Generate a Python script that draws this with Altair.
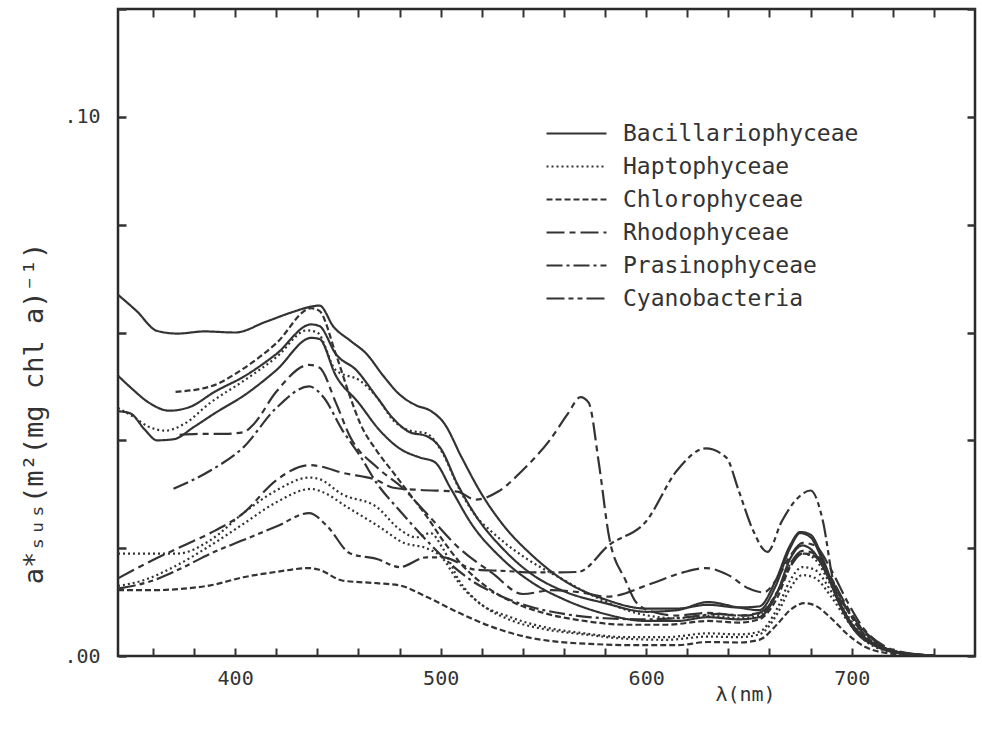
import altair as alt
import pandas as pd

CLASSES = ["Bacillariophyceae", "Haptophyceae", "Chlorophyceae",
           "Rhodophyceae", "Prasinophyceae", "Cyanobacteria"]
DASHES = [[1, 0], [2, 3], [6, 3], [18, 5, 6, 5], [16, 4, 3, 4], [18, 4, 5, 4, 5, 4]]

X_TICKS = [360, 380, 400, 420, 440, 460, 480, 500, 520, 540, 560, 580, 600,
           620, 640, 660, 680, 700, 720, 740]
Y_TICKS = [0.0, 0.02, 0.04, 0.06, 0.08, 0.10, 0.12]

# Bacillariophyceae
B1_NM = [343, 352, 362, 372, 385, 400, 415, 428, 437, 441, 448, 456, 464, 472, 480, 488, 495, 502, 510, 520, 530, 545, 560, 580, 600, 615, 630, 645, 655, 663, 670, 675, 680, 686, 693, 700, 710, 722, 735]
B1_V = [0.067, 0.064, 0.0603, 0.0598, 0.0602, 0.0600, 0.0620, 0.0638, 0.0648, 0.0650, 0.0610, 0.0585, 0.0560, 0.0520, 0.0485, 0.0465, 0.0455, 0.0430, 0.0370, 0.0300, 0.0245, 0.0185, 0.0140, 0.0105, 0.0088, 0.0088, 0.0095, 0.0090, 0.0092, 0.0140, 0.0205, 0.0230, 0.0225, 0.0180, 0.0110, 0.0060, 0.0025, 0.0008, 0.0002]
B2_NM = [343, 350, 358, 368, 378, 390, 405, 420, 437, 441, 449, 459, 469, 477, 485, 493, 500, 508, 518, 530, 545, 560, 580, 600, 615, 630, 645, 655, 663, 670, 675, 680, 686, 693, 700, 710, 722, 735]
B2_V = [0.052, 0.0495, 0.0470, 0.0455, 0.0462, 0.0490, 0.0520, 0.0560, 0.0615, 0.0612, 0.0560, 0.0530, 0.0480, 0.0440, 0.0415, 0.0408, 0.0385, 0.0320, 0.0255, 0.0200, 0.0150, 0.0120, 0.0098, 0.0082, 0.0085, 0.0100, 0.0090, 0.0085, 0.0130, 0.0200, 0.0228, 0.0220, 0.0175, 0.0105, 0.0055, 0.0022, 0.0007, 0.0002]
B3_NM = [343, 349, 356, 362, 370, 380, 390, 405, 420, 437, 441, 449, 460, 470, 480, 490, 497, 505, 515, 530, 545, 560, 580, 600, 615, 630, 645, 655, 664, 670, 676, 681, 688, 695, 702, 712, 725, 738]
B3_V = [0.0454, 0.0450, 0.0420, 0.0400, 0.0402, 0.0425, 0.0450, 0.0485, 0.0530, 0.0590, 0.0588, 0.0520, 0.0470, 0.0420, 0.0385, 0.0368, 0.0360, 0.0310, 0.0245, 0.0180, 0.0135, 0.0105, 0.0078, 0.0065, 0.0065, 0.0072, 0.0068, 0.0072, 0.0120, 0.0180, 0.0205, 0.0195, 0.0150, 0.0090, 0.0045, 0.0018, 0.0005, 0.0001]

# Haptophyceae
H1_NM = [343, 350, 358, 366, 375, 388, 404, 420, 435, 440, 449, 461, 469, 477, 485, 493, 501, 509, 517, 525, 542, 558, 575, 595, 615, 630, 645, 655, 664, 670, 676, 682, 690, 698, 706, 716, 728, 740]
H1_V = [0.046, 0.0445, 0.0425, 0.0418, 0.0430, 0.0470, 0.0510, 0.0554, 0.0604, 0.0600, 0.0530, 0.0510, 0.0480, 0.0437, 0.0418, 0.0413, 0.0376, 0.0310, 0.0260, 0.0230, 0.0180, 0.0145, 0.0110, 0.0080, 0.0070, 0.0075, 0.0070, 0.0075, 0.0120, 0.0170, 0.0190, 0.0180, 0.0130, 0.0075, 0.0035, 0.0012, 0.0003, 0.0001]
H2_NM = [343, 355, 372, 388, 404, 420, 436, 441, 452, 469, 480, 488, 495, 501, 509, 517, 534, 550, 570, 590, 610, 630, 645, 655, 664, 670, 676, 682, 690, 698, 706, 716, 728, 740]
H2_V = [0.0190, 0.0190, 0.0190, 0.0215, 0.0265, 0.0307, 0.0331, 0.0328, 0.0300, 0.0276, 0.0235, 0.0220, 0.0228, 0.0200, 0.0140, 0.0104, 0.0072, 0.0054, 0.0042, 0.0035, 0.0035, 0.0042, 0.0040, 0.0045, 0.0090, 0.0140, 0.0165, 0.0160, 0.0120, 0.0070, 0.0035, 0.0012, 0.0003, 0.0001]
H3_NM = [343, 355, 370, 388, 404, 420, 437, 442, 455, 470, 482, 493, 500, 510, 520, 535, 550, 570, 590, 610, 630, 645, 655, 664, 670, 676, 682, 690, 698, 706, 716, 728, 740]
H3_V = [0.0130, 0.0140, 0.0165, 0.0205, 0.0245, 0.0285, 0.0310, 0.0305, 0.0275, 0.0240, 0.0210, 0.0200, 0.0185, 0.0130, 0.0095, 0.0065, 0.0050, 0.0040, 0.0032, 0.0030, 0.0036, 0.0035, 0.0040, 0.0080, 0.0125, 0.0150, 0.0145, 0.0110, 0.0065, 0.0030, 0.0010, 0.0003, 0.0001]

# Chlorophyceae
C1_NM = [343, 360, 375, 388, 404, 420, 436, 441, 452, 469, 480, 493, 509, 525, 542, 558, 575, 595, 615, 630, 645, 655, 664, 670, 677, 683, 690, 698, 706, 716, 728, 740]
C1_V = [0.0122, 0.0122, 0.0125, 0.0131, 0.0146, 0.0156, 0.0163, 0.0160, 0.0140, 0.0135, 0.0131, 0.0110, 0.0080, 0.0054, 0.0035, 0.0026, 0.0022, 0.0020, 0.0020, 0.0026, 0.0025, 0.0030, 0.0060, 0.0085, 0.0098, 0.0092, 0.0070, 0.0040, 0.0018, 0.0006, 0.0002, 0.0001]
C2_NM = [371, 388, 404, 420, 437, 441, 449, 456, 461, 469, 477, 485, 493, 501, 509, 520, 535, 550, 570, 590, 610, 630, 645, 655, 664, 670, 676, 682, 690, 698, 706, 716, 728, 740]
C2_V = [0.0490, 0.0500, 0.0533, 0.0580, 0.0645, 0.0640, 0.0560, 0.0480, 0.0430, 0.0380, 0.0340, 0.0300, 0.0260, 0.0215, 0.0175, 0.0135, 0.0100, 0.0080, 0.0065, 0.0058, 0.0058, 0.0065, 0.0062, 0.0068, 0.0110, 0.0165, 0.0190, 0.0185, 0.0140, 0.0085, 0.0040, 0.0015, 0.0004, 0.0001]

# Rhodophyceae
R1_NM = [343, 360, 375, 388, 404, 420, 436, 441, 452, 469, 477, 490, 508, 517, 528, 540, 553, 562, 568, 572, 577, 582, 590, 595, 603, 615, 630, 645, 655, 664, 670, 676, 682, 690, 698, 706, 716, 728, 740]
R1_V = [0.0144, 0.0178, 0.0205, 0.0228, 0.0265, 0.0326, 0.0354, 0.0352, 0.0340, 0.0326, 0.0312, 0.0308, 0.0305, 0.0290, 0.0305, 0.0345, 0.0400, 0.0450, 0.0480, 0.0470, 0.0357, 0.0220, 0.0140, 0.0100, 0.0082, 0.0075, 0.0080, 0.0075, 0.0080, 0.0120, 0.0170, 0.0195, 0.0190, 0.0145, 0.0090, 0.0045, 0.0015, 0.0004, 0.0001]
R2_NM = [373, 385, 395, 404, 409, 420, 436, 441, 449, 456, 469, 482, 493, 509, 525, 540, 554, 568, 581, 603, 618, 629, 640, 650, 657, 664, 670, 676, 682, 690, 698, 706, 716, 728, 740]
R2_V = [0.0410, 0.0412, 0.0412, 0.0415, 0.0430, 0.0490, 0.0540, 0.0535, 0.0470, 0.0406, 0.0350, 0.0310, 0.0265, 0.0200, 0.0154, 0.0115, 0.0122, 0.0118, 0.0110, 0.0135, 0.0155, 0.0163, 0.0150, 0.0125, 0.0118, 0.0145, 0.0185, 0.0210, 0.0205, 0.0160, 0.0100, 0.0050, 0.0018, 0.0005, 0.0001]

# Prasinophyceae
P1_NM = [370, 388, 404, 420, 436, 443, 452, 461, 469, 480, 493, 505, 515, 530, 545, 560, 580, 600, 620, 635, 648, 656, 664, 670, 676, 682, 690, 698, 706, 716, 728, 740]
P1_V = [0.0310, 0.0344, 0.0387, 0.0460, 0.0500, 0.0480, 0.0420, 0.0370, 0.0320, 0.0270, 0.0215, 0.0170, 0.0140, 0.0110, 0.0090, 0.0078, 0.0070, 0.0068, 0.0072, 0.0078, 0.0075, 0.0080, 0.0120, 0.0165, 0.0190, 0.0185, 0.0140, 0.0085, 0.0040, 0.0015, 0.0004, 0.0001]

# Cyanobacteria
Y1_NM = [343, 360, 375, 388, 404, 420, 436, 445, 456, 469, 480, 493, 501, 517, 530, 545, 558, 567, 582, 600, 615, 629, 639, 645, 652, 659, 666, 674, 680, 686, 691, 699, 707, 716, 728, 740]
Y1_V = [0.0125, 0.0140, 0.0165, 0.0190, 0.0215, 0.0240, 0.0265, 0.0240, 0.0190, 0.0180, 0.0165, 0.0183, 0.0183, 0.0160, 0.0158, 0.0155, 0.0155, 0.0156, 0.0206, 0.0250, 0.0344, 0.0385, 0.0368, 0.0307, 0.0233, 0.0193, 0.0250, 0.0294, 0.0307, 0.0250, 0.0140, 0.0080, 0.0043, 0.0015, 0.0004, 0.0001]

CURVES = [
    ("Bacillariophyceae", "B1", B1_NM, B1_V),
    ("Bacillariophyceae", "B2", B2_NM, B2_V),
    ("Bacillariophyceae", "B3", B3_NM, B3_V),
    ("Haptophyceae", "H1", H1_NM, H1_V),
    ("Haptophyceae", "H2", H2_NM, H2_V),
    ("Haptophyceae", "H3", H3_NM, H3_V),
    ("Chlorophyceae", "C1", C1_NM, C1_V),
    ("Chlorophyceae", "C2", C2_NM, C2_V),
    ("Rhodophyceae", "R1", R1_NM, R1_V),
    ("Rhodophyceae", "R2", R2_NM, R2_V),
    ("Prasinophyceae", "P1", P1_NM, P1_V),
    ("Cyanobacteria", "Y1", Y1_NM, Y1_V),
]

rows = []
for cls, cid, nms, vals in CURVES:
    for i, (w, v) in enumerate(zip(nms, vals)):
        rows.append({"cls": cls, "cid": cid, "nm": w, "a": v, "ord": i})
df = pd.DataFrame(rows)

FONT = "DejaVu Sans Mono"
INK = "#333333"

xscale = alt.Scale(domain=[343, 760], nice=False, zero=False)
yscale = alt.Scale(domain=[0, 0.12], nice=False, zero=True)

x_bottom = alt.Axis(
    values=X_TICKS, orient="bottom", offset=-8, tickSize=8, tickWidth=2,
    tickColor=INK, domain=False, grid=False, labelPadding=12,
    labelExpr="datum.value % 100 == 0 ? datum.value : ''",
    labelFont=FONT, labelFontSize=20, labelColor=INK,
    title="λ(nm)", titleFont=FONT, titleFontSize=20, titleFontWeight="normal",
    titleColor=INK, titleX=627, titleY=46, titleAlign="center", titleBaseline="middle",
)
y_left = alt.Axis(
    values=Y_TICKS, orient="left", offset=-8, tickSize=8, tickWidth=2.5,
    tickColor=INK, domain=False, grid=False, labelPadding=18,
    labelExpr="datum.value == 0 ? '.00' : (abs(datum.value - 0.1) < 0.000001 ? '.10' : '')",
    labelFont=FONT, labelFontSize=20, labelColor=INK,
    title="a*ₛᵤₛ(m²(mg chl a)⁻¹)", titleFont=FONT, titleFontSize=27,
    titleFontWeight="normal", titleColor=INK, titleX=-92, titleY=404,
    titleAlign="center", titleBaseline="middle", titleAngle=270,
)
x_top = alt.Axis(values=X_TICKS, orient="top", offset=-8, tickSize=8, tickWidth=2,
                 tickColor=INK, domain=False, grid=False, labels=False, title=None)
y_right = alt.Axis(values=Y_TICKS, orient="right", offset=-8, tickSize=8, tickWidth=2.5,
                   tickColor=INK, domain=False, grid=False, labels=False, title=None)

lines = alt.Chart(df).mark_line(
    interpolate="monotone", strokeWidth=2.2, color=INK
).encode(
    x=alt.X("nm:Q", scale=xscale, axis=x_bottom),
    y=alt.Y("a:Q", scale=yscale, axis=y_left),
    strokeDash=alt.StrokeDash(
        "cls:N",
        scale=alt.Scale(domain=CLASSES, range=DASHES),
        legend=alt.Legend(
            orient="none", legendX=447, legendY=113, title=None,
            symbolType="M-3,0H3", symbolSize=400, symbolStrokeWidth=2.2,
            symbolStrokeColor=INK, labelFont=FONT, labelFontSize=23,
            labelColor=INK, labelOffset=35, labelLimit=400, rowPadding=9,
        ),
    ),
    detail="cid:N",
    order="ord:Q",
)

frame = alt.Chart(df).mark_line(opacity=0).encode(
    x=alt.X("nm:Q", scale=xscale, axis=x_top),
    y=alt.Y("a:Q", scale=yscale, axis=y_right),
    detail="cid:N",
)

chart = alt.layer(lines, frame).resolve_axis(
    x="independent", y="independent"
).properties(
    width=857, height=647,
    autosize=alt.AutoSizeParams(type="none"),
    padding={"left": 118, "top": 9, "right": 7, "bottom": 76},
    background="white",
).configure_view(stroke="#2a2a2a", strokeWidth=2.5)

chart.save("out.html", embed_options={"renderer": "svg", "actions": False})
